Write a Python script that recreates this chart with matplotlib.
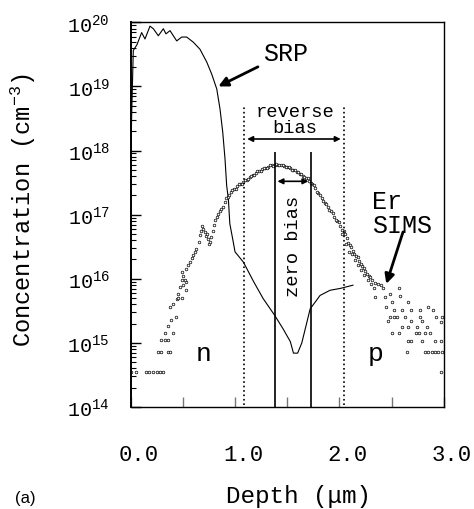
import numpy as np
import matplotlib
matplotlib.use("Agg")
import matplotlib.pyplot as plt
import matplotlib.transforms as mtransforms

plt.rcParams['font.family'] = ['Liberation Mono', 'DejaVu Sans']
plt.rcParams['mathtext.default'] = 'regular'

# SRP profile (depth in um, log10 of concentration)
srp_x = [0.0, 0.01, 0.025, 0.06, 0.105, 0.137, 0.185, 0.217, 0.265, 0.313, 0.338, 0.377,
         0.441, 0.489, 0.537, 0.60, 0.664, 0.729, 0.777, 0.825, 0.856, 0.882, 0.904,
         0.92, 0.936, 0.95, 0.98, 1.0, 1.08, 1.18, 1.27, 1.38, 1.46, 1.53, 1.56, 1.60,
         1.64, 1.72, 1.815, 1.91, 2.01, 2.13]
srp_log = [17.7, 18.6, 19.56, 19.65, 19.84, 19.74, 19.94, 19.90, 19.79, 19.90, 19.82, 19.87,
           19.71, 19.77, 19.77, 19.69, 19.58, 19.38, 19.19, 18.96, 18.65, 18.29, 17.87,
           17.45, 17.25, 16.86, 16.60, 16.42, 16.26, 15.95, 15.69, 15.43, 15.22, 15.02, 14.84, 14.84,
           15.00, 15.53, 15.74, 15.82, 15.85, 15.90]

# Er SIMS data points
sims_x = [0.006, 0.05, 0.15, 0.18, 0.21, 0.25, 0.28, 0.31,
          0.26, 0.29, 0.36, 0.38, 0.29, 0.33, 0.36, 0.33, 0.41,
          0.36, 0.39, 0.43, 0.38, 0.41, 0.44, 0.45, 0.49, 0.45,
          0.47, 0.50, 0.53, 0.53, 0.52, 0.49, 0.50,
          0.49, 0.53, 0.55, 0.57, 0.59, 0.60, 0.62, 0.63, 0.65, 0.66, 0.67, 0.68,
          0.69, 0.71, 0.72, 0.74, 0.75, 0.76, 0.73, 0.77, 0.79, 0.80, 0.81, 0.83, 0.84, 0.86,
          0.87, 0.90, 0.93, 0.96, 0.99, 1.02, 1.05, 1.08, 1.11, 1.14, 1.17, 1.20, 1.23, 1.26,
          1.29, 1.32, 1.35, 1.38, 1.41, 1.44, 1.47, 1.50, 1.53, 1.56, 1.59, 1.62, 1.65, 1.68,
          1.71, 1.74, 1.77, 1.80, 1.83, 1.86, 1.89, 1.92, 1.95, 1.98, 2.01, 2.04, 2.07, 2.10,
          2.13, 2.16, 2.19, 2.22, 2.25, 2.28, 2.31, 2.34, 2.37, 2.40,
          0.885, 0.915, 0.945, 0.975, 1.005, 1.035, 1.065, 1.095, 1.125, 1.155, 1.185, 1.215,
          1.245, 1.275, 1.305, 1.335, 1.365, 1.395, 1.425, 1.455, 1.485, 1.515, 1.545, 1.575,
          1.605, 1.635, 1.665, 1.695, 1.725, 1.755, 1.785, 1.815, 1.845, 1.875, 1.905, 1.935,
          1.965, 1.995, 2.025, 2.055, 2.085, 2.115, 2.145, 2.175, 2.205, 2.235, 2.265, 2.295,
          2.03, 2.06, 2.09, 2.12, 2.15, 2.18, 2.21, 2.24, 2.27, 2.30,
          2.33, 2.42, 2.34, 2.44, 2.49, 2.57, 2.58, 2.50, 2.45, 2.52, 2.66, 2.60, 2.69, 2.77,
          2.85, 2.90, 2.49, 2.52, 2.55, 2.47, 2.63, 2.69, 2.77, 2.79, 2.93, 2.98, 2.97,
          2.60, 2.66, 2.74, 2.84, 2.50, 2.57, 2.73, 2.76, 2.82, 2.87,
          2.66, 2.69, 2.79, 2.92, 2.97, 2.65, 2.82, 2.85, 2.89, 2.92, 2.95, 2.98, 2.97]
sims_log = [14.55, 14.55, 14.55, 14.55, 14.55, 14.55, 14.55, 14.55,
            14.86, 14.86, 14.86, 14.86, 15.04, 15.04, 15.04, 15.16, 15.16,
            15.26, 15.35, 15.40, 15.56, 15.61, 15.69, 15.70, 15.70, 15.77,
            15.87, 15.90, 15.82, 15.95, 15.98, 15.98, 16.05,
            16.11, 16.16, 16.22, 16.26, 16.32, 16.37, 16.42, 16.47, 16.57, 16.68, 16.75, 16.83,
            16.78, 16.73, 16.66, 16.62, 16.55, 16.57, 16.70, 16.65, 16.75, 16.84, 16.91, 16.97, 17.01, 17.06,
            17.09, 17.20, 17.28, 17.35, 17.40, 17.44, 17.48, 17.51, 17.54, 17.58, 17.62, 17.65, 17.68, 17.71,
            17.73, 17.75, 17.77, 17.78, 17.78, 17.77, 17.76, 17.74, 17.72, 17.70, 17.67, 17.64, 17.61, 17.57,
            17.53, 17.48, 17.41, 17.33, 17.26, 17.18, 17.12, 17.05, 16.97, 16.90, 16.83, 16.74, 16.63, 16.52,
            16.44, 16.36, 16.28, 16.20, 16.12, 16.04, 15.98, 15.94, 15.92, 15.90,
            17.12, 17.26, 17.30, 17.39, 17.40, 17.48, 17.48, 17.54, 17.55, 17.61, 17.62, 17.68,
            17.68, 17.73, 17.73, 17.77, 17.76, 17.79, 17.77, 17.78, 17.74, 17.75, 17.70, 17.70,
            17.66, 17.64, 17.58, 17.57, 17.49, 17.46, 17.36, 17.31, 17.21, 17.17, 17.07, 17.03,
            16.92, 16.88, 16.76, 16.70, 16.56, 16.50, 16.39, 16.34, 16.23, 16.17, 16.07, 16.02,
            16.70, 16.55, 16.42, 16.38, 16.30, 16.22, 16.14, 16.06, 15.98, 15.92,
            15.85, 15.85, 15.72, 15.72, 15.77, 15.86, 15.73, 15.64, 15.56, 15.52, 15.64, 15.52, 15.52, 15.52,
            15.56, 15.52, 15.40, 15.40, 15.40, 15.34, 15.40, 15.34, 15.40, 15.34, 15.40, 15.40, 15.33,
            15.25, 15.25, 15.25, 15.25, 15.16, 15.16, 15.16, 15.16, 15.16, 15.16,
            15.03, 15.03, 15.03, 15.03, 15.03, 14.86, 14.86, 14.86, 14.86, 14.86, 14.86, 14.86, 14.55]

ytick_exp = [14, 15, 16, 17, 18, 19, 20]
xtick_vals = [0.0, 1.0, 2.0, 3.0]
xtick_labels = ["0.0", "1.0", "2.0", "3.0"]

reverse_edges = [1.09, 2.04]
zero_edges = [1.38, 1.73]

fig = plt.figure(figsize=(4.74, 5.10), dpi=100)
ax = fig.add_axes([0.2757, 0.2, 0.6604, 0.7543])

ax.plot(srp_x, np.power(10.0, srp_log), color='black', lw=0.8)
ax.plot(sims_x, np.power(10.0, sims_log), ls='none', marker='o', ms=1.9,
        mfc='white', mec='black', mew=0.5)

ax.set_yscale('log')
ax.set_xlim(0, 3)
ax.set_ylim(1e14, 1e20)

# bias region markers
ax.vlines(reverse_edges, 1e14 * 1.07, 10 ** 18.7, colors='black', linestyles=':', lw=1.2)
ax.vlines(zero_edges, 1e14, 10 ** 17.97, colors='black', lw=1.2)
ax.annotate('', xy=(reverse_edges[0], 10 ** 18.18), xytext=(reverse_edges[1], 10 ** 18.18),
            arrowprops=dict(arrowstyle='<|-|>', color='black', lw=1.2, mutation_scale=8))
ax.annotate('', xy=(zero_edges[0], 10 ** 17.52), xytext=(zero_edges[1], 10 ** 17.52),
            arrowprops=dict(arrowstyle='<|-|>', color='black', lw=1.2, mutation_scale=8))
ax.text(1.575, 10 ** 18.48, 'reverse\nbias', ha='center', va='center', fontsize=13.5,
        linespacing=0.95)
ax.text(1.56, 10 ** 16.52, 'zero bias', rotation=90, ha='center', va='center', fontsize=13.5)

ax.annotate('SRP', xy=(0.84, 10 ** 19.0), xytext=(1.27, 10 ** 19.52), fontsize=18,
            ha='left', va='center',
            arrowprops=dict(arrowstyle='-|>', color='black', lw=2, mutation_scale=14,
                            shrinkA=2, shrinkB=0))
ax.text(2.31, 10 ** 17.02, 'Er\nSIMS', ha='left', va='center', fontsize=18, linespacing=1.0)
ax.annotate('', xy=(2.45, 10 ** 15.92), xytext=(2.61, 10 ** 16.73),
            arrowprops=dict(arrowstyle='-|>', color='black', lw=2, mutation_scale=14,
                            shrinkA=0, shrinkB=0))
ax.text(0.70, 10 ** 14.84, 'n', ha='center', va='center', fontsize=19)
ax.text(2.35, 10 ** 14.84, 'p', ha='center', va='center', fontsize=19)

ax.set_yticks([10.0 ** e for e in ytick_exp])
ax.set_yticklabels(['$10^{%d}$' % e for e in ytick_exp], fontsize=14.5)
ax.set_xticks(xtick_vals)
ax.set_xticklabels(xtick_labels, fontsize=16)
ax.set_xticks([0.5, 1.5, 2.5], minor=True)
ax.tick_params(axis='y', which='major', direction='in', length=7, width=1, pad=15)
ax.tick_params(axis='y', which='minor', direction='in', length=3.5, width=0.8, labelleft=False)
ax.tick_params(axis='x', which='both', direction='in', length=7, width=1, color='#777777', pad=27)
offset = mtransforms.ScaledTranslation(8 / 100, 0, fig.dpi_scale_trans)
for lab in ax.get_xticklabels():
    lab.set_transform(lab.get_transform() + offset)
for sp in ax.spines.values():
    sp.set_linewidth(1.0)
ax.spines['left'].set_linewidth(1.4)

fig.text(298 / 474, 1 - 497 / 510, 'Depth (μm)', ha='center', va='center', fontsize=17.5)
fig.text(23 / 474, 1 - 210 / 510, 'Concentration (cm$^{-3}$)', rotation=90,
         ha='center', va='center', fontsize=17)
fig.text(15 / 474, 1 - 499 / 510, '(a)', ha='left', va='center', fontsize=12,
         family='Liberation Sans')

fig.savefig('out.png', dpi=100)
